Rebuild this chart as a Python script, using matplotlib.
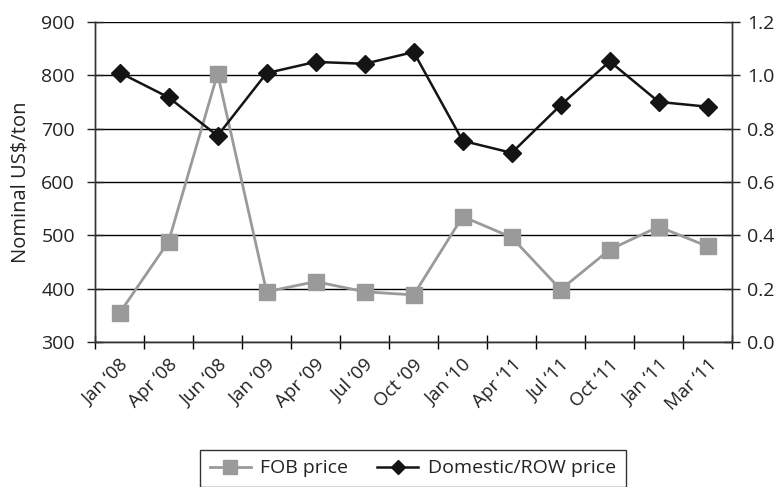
import numpy as np
import matplotlib.pyplot as plt

plt.rcParams['font.family'] = ['Open Sans', 'DejaVu Sans']

# data
months = ['Jan \u201808', 'Apr \u201808', 'Jun \u201808', 'Jan \u201809', 'Apr \u201809', 'Jul \u201809',
          'Oct \u201809', 'Jan \u201810', 'Apr \u201811', 'Jul \u201811', 'Oct \u201811', 'Jan \u201811', 'Mar \u201811']
fob_price = [354, 488, 803, 394, 413, 394, 388, 535, 496, 398, 473, 516, 479]
domestic_row = [1.01, 0.917, 0.773, 1.008, 1.05, 1.043, 1.087, 0.754, 0.709, 0.888, 1.052, 0.90, 0.882]

grey = '#9a9a9a'
black = '#141414'
text_col = '#222222'

fig = plt.figure(figsize=(7.79, 4.87), dpi=100)
ax = fig.add_axes([0.122, 0.298, 0.818, 0.657])
ax2 = ax.twinx()

x = np.arange(len(months))
l1, = ax.plot(x, fob_price, color=grey, lw=2, marker='s', markersize=12,
              markerfacecolor=grey, markeredgecolor=grey, label='FOB price', zorder=3)
l2, = ax2.plot(x, domestic_row, color=black, lw=1.8, marker='D', markersize=9,
               markerfacecolor=black, markeredgecolor=black, label='Domestic/ROW price', zorder=3)

ax.set_xlim(-0.5, len(months) - 0.5)
ax.set_ylim(300, 900)
ax.set_yticks(np.arange(300, 901, 100))
ax2.set_ylim(0, 1.2)
ax2.set_yticks(np.arange(0, 1.21, 0.2))
ax2.set_yticklabels(['%.1f' % v for v in np.arange(0, 1.21, 0.2)])

ax.yaxis.grid(True, color='black', lw=1)
ax.set_axisbelow(True)

ax.set_xticks(x)
ax.set_xticklabels(months, rotation=45, ha='right', rotation_mode='anchor', fontsize=13.5, color=text_col)
ax.tick_params(axis='x', which='major', length=0, pad=10)
ax.set_xticks(np.arange(-0.5, len(months), 1), minor=True)
ax.tick_params(axis='x', which='minor', direction='inout', length=10, width=1)
ax.tick_params(axis='y', direction='inout', length=11, width=1, labelsize=14, pad=9, colors=text_col)
ax2.tick_params(axis='y', direction='inout', length=11, width=1, labelsize=14, pad=5, colors=text_col)

for a in (ax, ax2):
    for s in a.spines.values():
        s.set_color('#333333')
        s.set_linewidth(1)
    a.spines['top'].set_visible(False)

ax.set_ylabel('Nominal US\\$/ton', fontsize=14.5, labelpad=8, color=text_col)

leg = fig.legend([l1, l2], ['FOB price', 'Domestic/ROW price'], loc='center',
                 bbox_to_anchor=(0.53, 0.038), ncol=2, frameon=True, fancybox=False,
                 fontsize=14, handlelength=2.1, handletextpad=0.5, columnspacing=1.5,
                 borderpad=0.5, markerscale=0.8)
leg.get_frame().set_edgecolor('black')
leg.get_frame().set_linewidth(1)
for t in leg.get_texts():
    t.set_color(text_col)

fig.savefig('out.png', dpi=100)
